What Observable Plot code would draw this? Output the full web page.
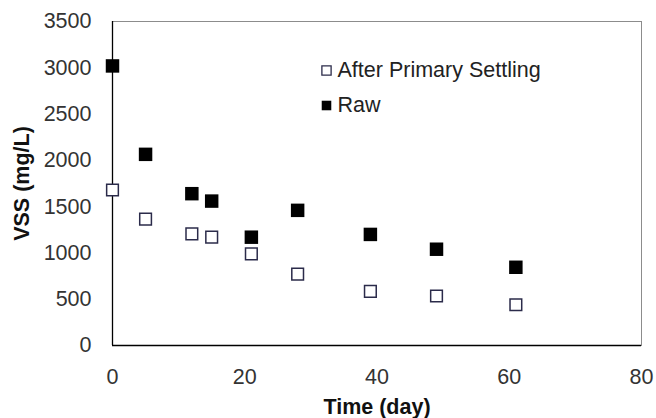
<!DOCTYPE html>
<html>
<head>
<meta charset="utf-8">
<script src="https://cdn.jsdelivr.net/npm/d3@7"></script>
<script src="https://cdn.jsdelivr.net/npm/@observablehq/plot@0.6"></script>
<style>
  html, body { margin: 0; padding: 0; background: #fff; }
</style>
</head>
<body>
<div id="chart"></div>
<script>
const days = [0, 5, 12, 15, 21, 28, 39, 49, 61];
const afterSettling = [1680, 1365, 1205, 1170, 990, 770, 585, 535, 440];
const raw = [3020, 2065, 1640, 1560, 1170, 1460, 1200, 1040, 845];
const xTicks = [0, 20, 40, 60, 80];
const yTicks = [0, 500, 1000, 1500, 2000, 2500, 3000, 3500];
const seriesNames = ["After Primary Settling", "Raw"];
const xTitle = "Time (day)";
const yTitle = "VSS (mg/L)";

const afterData = days.map((d, i) => ({day: d, value: afterSettling[i]}));
const rawData = days.map((d, i) => ({day: d, value: raw[i]}));

const font = "Liberation Sans, Arial, sans-serif";
const fs = 21.5;

const chart = Plot.plot({
  width: 656,
  height: 418,
  marginLeft: 112,
  marginRight: 15,
  marginTop: 21,
  marginBottom: 73,
  style: {fontFamily: font, fontSize: fs + "px", background: "#fff"},
  x: {domain: [0, 80]},
  y: {domain: [0, 3500]},
  marks: [
    Plot.frame({stroke: "#8c8c8c", strokeWidth: 1}),
    Plot.axisX({ticks: xTicks, tickFormat: d => String(d), tickSize: 0, tickPadding: 23, label: null, fill: "#333", fontSize: fs}),
    Plot.axisY({ticks: yTicks, tickFormat: d => String(d), tickSize: 0, tickPadding: 21, label: null, fill: "#333", fontSize: fs}),
    Plot.ruleX([0], {stroke: "#000", strokeWidth: 1.3}),
    Plot.ruleY([0], {stroke: "#000", strokeWidth: 1.3}),
    Plot.dot(rawData, {x: "day", y: "value", symbol: "square", r: 7.6, fill: "#000", stroke: "none"}),
    Plot.dot(afterData, {x: "day", y: "value", symbol: "square", r: 6.6, fill: "#fff", stroke: "#2b2b4a", strokeWidth: 1.5}),
    // legend
    Plot.dot([seriesNames[0]], {frameAnchor: "top-left", dx: 214, dy: 49, symbol: "square", r: 5.2, fill: "#fff", stroke: "#2b2b4a", strokeWidth: 1.3}),
    Plot.dot([seriesNames[1]], {frameAnchor: "top-left", dx: 214, dy: 84, symbol: "square", r: 5.4, fill: "#000", stroke: "none"}),
    Plot.text([seriesNames[0]], {frameAnchor: "top-left", dx: 225, dy: 49, text: d => d, textAnchor: "start", lineAnchor: "middle", fontSize: fs, fill: "#222"}),
    Plot.text([seriesNames[1]], {frameAnchor: "top-left", dx: 225, dy: 84, text: d => d, textAnchor: "start", lineAnchor: "middle", fontSize: fs, fill: "#222"}),
    // axis titles
    Plot.text([xTitle], {frameAnchor: "bottom", dy: 62, text: d => d, textAnchor: "middle", lineAnchor: "middle", fontWeight: "bold", fontSize: fs, fill: "#111"}),
    Plot.text([yTitle], {frameAnchor: "left", dx: -90, rotate: -90, text: d => d, textAnchor: "middle", lineAnchor: "middle", fontWeight: "bold", fontSize: fs, fill: "#111"})
  ]
});
document.getElementById("chart").appendChild(chart);
</script>
</body>
</html>
